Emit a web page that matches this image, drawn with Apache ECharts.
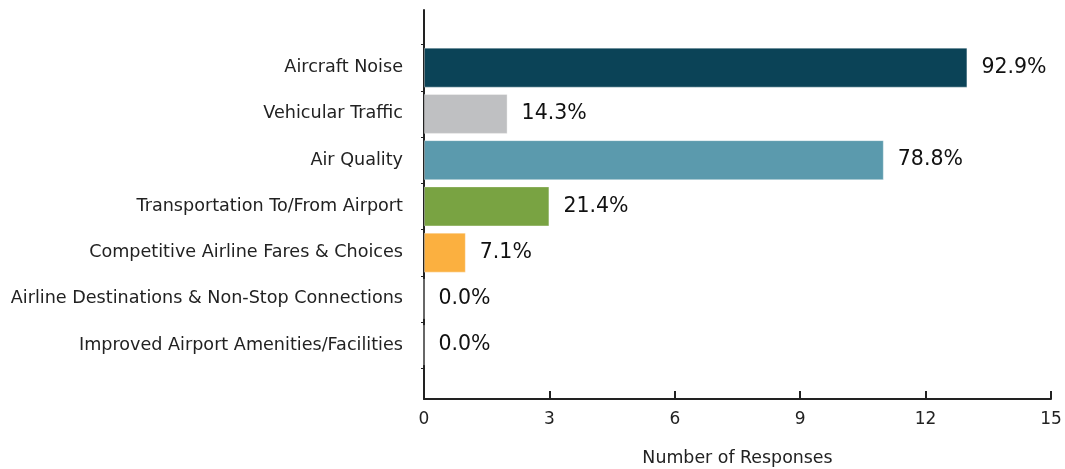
<!DOCTYPE html>
<html>
<head>
<meta charset="utf-8">
<script src="https://cdn.jsdelivr.net/npm/echarts@6/dist/echarts.min.js"></script>
<style>
  html, body { margin: 0; padding: 0; background: #fff; }
  #chart { width: 1065px; height: 469px; }
</style>
</head>
<body>
<div id="chart"></div>
<script>
// data
var categories = [
    'Aircraft Noise',
    'Vehicular Traffic',
    'Air Quality',
    'Transportation To/From Airport',
    'Competitive Airline Fares & Choices',
    'Airline Destinations & Non-Stop Connections',
    'Improved Airport Amenities/Facilities'
];
var responses = [13, 2, 11, 3, 1, 0, 0];
var percents = ['92.9%', '14.3%', '78.8%', '21.4%', '7.1%', '0.0%', '0.0%'];
var barColors = ['#0b4357', '#bfc0c2', '#5b9aad', '#79a342', '#fbb040', '#999999', '#999999'];
var xTicks = [0, 3, 6, 9, 12, 15];

var myChart = echarts.init(document.getElementById('chart'));
var font = 'DejaVu Sans';

var barData = responses.map(function (v, i) {
    return { value: v, itemStyle: { color: barColors[i] } };
});

var option = {
    animation: false,
    backgroundColor: '#fff',
    textStyle: { fontFamily: font },
    grid: [
        // bars
        { left: 424, right: 14, top: 44.5, height: 323.75, outerBoundsMode: 'none', containLabel: false },
        // frame with axis lines
        { left: 424, right: 14, top: 10, bottom: 70, outerBoundsMode: 'none', containLabel: false }
    ],
    xAxis: [
        { gridIndex: 0, type: 'value', min: 0, max: 15, interval: 3, show: false },
        {
            gridIndex: 1, type: 'value', min: 0, max: 15, interval: 3,
            name: 'Number of Responses', nameLocation: 'middle', nameGap: 51,
            nameTextStyle: { fontSize: 17.4, color: '#222', fontFamily: font },
            axisLine: { show: true, lineStyle: { color: '#222', width: 2 } },
            axisTick: { show: true, inside: true, length: 8, lineStyle: { color: '#222', width: 2 } },
            axisLabel: {
                fontSize: 17, color: '#222', margin: 12, fontFamily: font,
                formatter: function (v) { return xTicks.indexOf(v) >= 0 ? String(v) : ''; }
            },
            splitLine: { show: false }
        }
    ],
    yAxis: [
        {
            gridIndex: 0, type: 'category', data: categories, inverse: true,
            axisLine: { show: false },
            axisTick: { show: true, length: 3, lineStyle: { color: '#222' } },
            axisLabel: { fontSize: 17.6, color: '#222', margin: 21, fontFamily: font },
            splitLine: { show: false }
        },
        {
            gridIndex: 1, type: 'value', min: 0, max: 1,
            axisLine: { show: true, lineStyle: { color: '#222', width: 2 } },
            axisTick: { show: false },
            axisLabel: { show: false },
            splitLine: { show: false }
        }
    ],
    series: [{
        type: 'bar',
        xAxisIndex: 0,
        yAxisIndex: 0,
        data: barData,
        barWidth: 40,
        itemStyle: { borderColor: 'rgba(255,255,255,0.35)', borderWidth: 1 },
        label: {
            show: true,
            position: 'right',
            distance: 14,
            fontSize: 20.5,
            color: '#111',
            fontFamily: font,
            formatter: function (p) { return percents[p.dataIndex]; }
        }
    }]
};

myChart.setOption(option);
</script>
</body>
</html>
